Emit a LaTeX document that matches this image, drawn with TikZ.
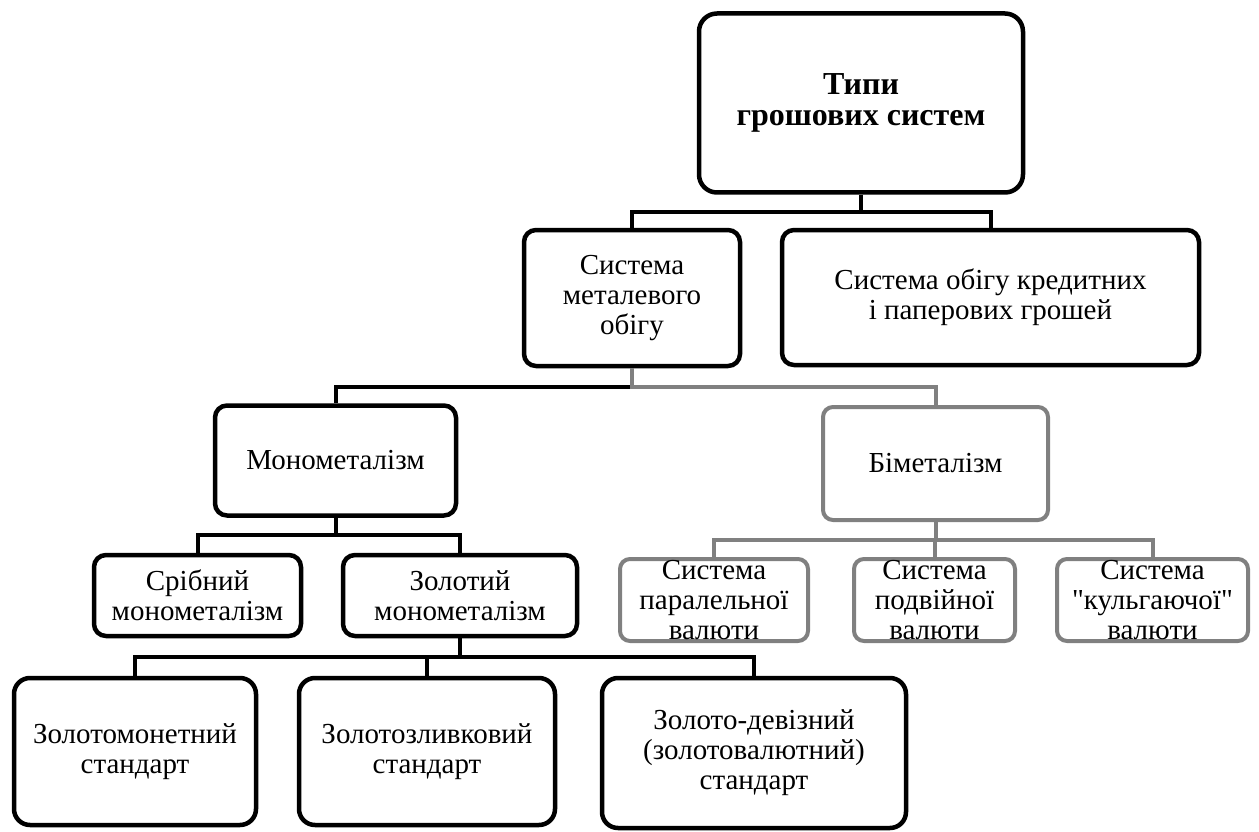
\documentclass[tikz,border=0pt]{standalone}
\usepackage{fontspec}
\setmainfont{LiberationSerif}[Extension=.ttf, UprightFont=*-Regular, BoldFont=*-Bold, ItalicFont=*-Italic, BoldItalicFont=*-BoldItalic, Ligatures=TeXOff]
\definecolor{grayc}{RGB}{128,128,128}
\begin{document}
\begin{tikzpicture}[x=1pt,y=-1pt,
  box/.style={draw=black, line width=4.5pt, rounded corners=12pt, fill=white, align=center, inner sep=0pt, font=\fontsize{29}{30}\selectfont},
  gbox/.style={box, draw=grayc, line width=4pt, rounded corners=10pt},
  link/.style={line width=4pt, draw=black},
  glink/.style={line width=4pt, draw=grayc}]
\useasboundingbox (0,0) rectangle (1259,832);

\node[box, rounded corners=18pt, minimum width=324pt, minimum height=179pt, font=\fontsize{32}{31}\selectfont\bfseries] (top) at (861,103) {Типи\\грошових систем};

\node[box, minimum width=216pt, minimum height=136pt] (metal) at (632,298) {Система\\металевого\\обігу};
\node[box, minimum width=417pt, minimum height=135pt] (credit) at (990.5,297.5) {Система обігу кредитних\\і паперових грошей};

\node[box, minimum width=241pt, minimum height=110pt] (mono) at (335.5,460.5) {Монометалізм};
\node[gbox, minimum width=225pt, minimum height=113pt] (bim) at (935.5,463.5) {Біметалізм};

\node[box, minimum width=207pt, minimum height=81pt] (silver) at (197.5,595.5) {Срібний\\монометалізм};
\node[box, minimum width=234pt, minimum height=81pt] (gold) at (460,595.5) {Золотий\\монометалізм};

\node[gbox, minimum width=188pt, minimum height=82pt] (par) at (714,600) {Система\\паралельної\\валюти};
\node[gbox, minimum width=161pt, minimum height=82pt] (dbl) at (934.5,600) {Система\\подвійної\\валюти};
\node[gbox, minimum width=191pt, minimum height=82pt] (limp) at (1152.5,600) {Система\\"кульгаючої"\\валюти};

\node[box, rounded corners=16pt, minimum width=242pt, minimum height=147pt] (coin) at (135,751.5) {Золотомонетний\\стандарт};
\node[box, rounded corners=16pt, minimum width=256pt, minimum height=147pt] (ingot) at (427,751.5) {Золотозливковий\\стандарт};
\node[box, rounded corners=16pt, minimum width=304pt, minimum height=150pt] (dev) at (754,753) {Золото-девізний\\(золотовалютний)\\стандарт};

\draw[link] (top.south) -- (top.south |- 0,212) -| (metal.north);
\draw[link] (top.south) -- (top.south |- 0,212) -| (credit.north);

\draw[link] (metal.south) -- (metal.south |- 0,387) -| (mono.north);
\draw[glink] (metal.south) -- (metal.south |- 0,387) -| (bim.north);

\draw[link] (mono.south) -- (mono.south |- 0,535) -| (silver.north);
\draw[link] (mono.south) -- (mono.south |- 0,535) -| (gold.north);

\draw[glink] (bim.south) -- (bim.south |- 0,540) -| (par.north);
\draw[glink] (bim.south) -- (bim.south |- 0,540) -| (dbl.north);
\draw[glink] (bim.south) -- (bim.south |- 0,540) -| (limp.north);

\draw[link] (gold.south) -- (gold.south |- 0,657) -| (coin.north);
\draw[link] (gold.south) -- (gold.south |- 0,657) -| (ingot.north);
\draw[link] (gold.south) -- (gold.south |- 0,657) -| (dev.north);
\end{tikzpicture}
\end{document}
